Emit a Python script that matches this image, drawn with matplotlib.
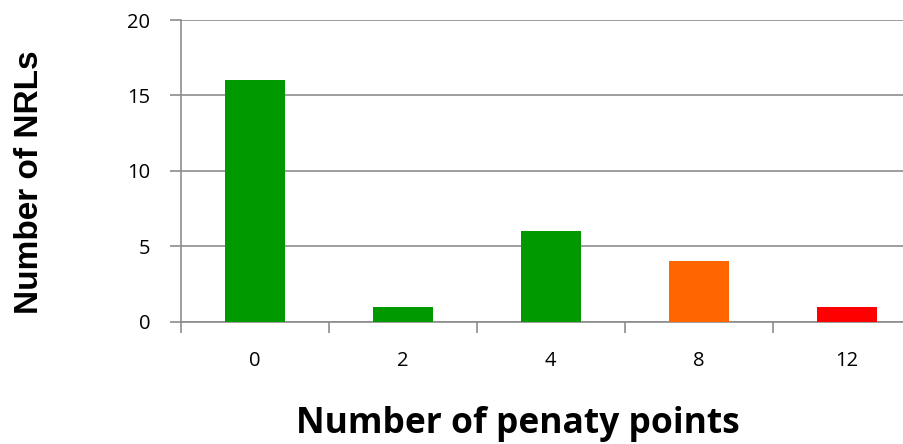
import matplotlib
matplotlib.use("Agg")
import matplotlib.pyplot as plt

categories = ["0", "2", "4", "8", "12"]
values = [16, 1, 6, 4, 1]
colors = ["#009900", "#009900", "#009900", "#FF6600", "#FF0000"]
yticks = [0, 5, 10, 15, 20]

plt.rcParams['font.family'] = ['Open Sans', 'DejaVu Sans']

W, H = 904, 444
fig = plt.figure(figsize=(W/100, H/100), dpi=100)
left, right = 180.7, 180.7 + 5*148
top, bottom = 20, 321.7
ax = fig.add_axes([left/W, 1 - bottom/H, (right-left)/W, (bottom-top)/H])

x = list(range(len(categories)))
ax.bar(x, values, width=0.405, color=colors, zorder=3)
ax.set_xlim(-0.5, len(categories) - 0.5)
ax.set_ylim(0, 20)
ax.set_yticks(yticks)
ax.set_yticklabels([str(v) for v in yticks], fontsize=14.5)
ax.set_xticks(x)
ax.set_xticklabels(categories, fontsize=14.5)
ax.set_xticks([i - 0.5 for i in range(len(categories) + 1)], minor=True)
ax.tick_params(axis='x', which='major', length=0, pad=21)
ax.tick_params(axis='x', which='minor', length=8, color='#8c8c8c', width=1.2)
ax.tick_params(axis='y', length=8, color='#8c8c8c', width=1.2, pad=14)
ax.grid(axis='y', color='#8c8c8c', linewidth=1.2, zorder=0)
for s in ['top', 'right']:
    ax.spines[s].set_visible(False)
for s in ['left', 'bottom']:
    ax.spines[s].set_color('#8c8c8c')
    ax.spines[s].set_linewidth(1.2)

fig.text(518/W, 1 - 424/H, "Number of penaty points", fontsize=25.5, fontweight='bold',
         ha='center', va='center')
fig.text(30/W, 1 - 182/H, "Number of NRLs", fontsize=24, fontweight='bold',
         ha='center', va='center', rotation=90, family=['Liberation Sans', 'DejaVu Sans'])

fig.savefig("out.png", dpi=100)
